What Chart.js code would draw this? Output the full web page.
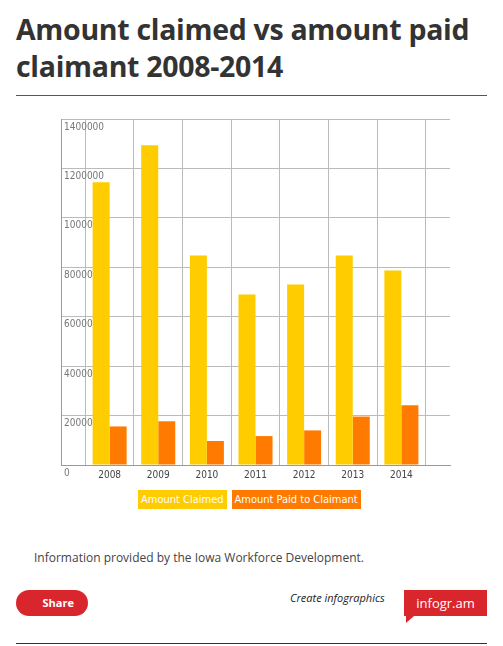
<!DOCTYPE html>
<html>
<head>
<meta charset="utf-8">
<script src="https://cdn.jsdelivr.net/npm/chart.js@4"></script>
<style>
  body { margin: 0; width: 503px; height: 646px; background: #fff; font-family: "Open Sans", sans-serif; position: relative; overflow: hidden; }
  #title { position: absolute; left: 16px; top: 11px; width: 485px; font: bold 28.5px/37px "Open Sans", sans-serif; color: #333; letter-spacing: -0.3px; }
  .rule { position: absolute; left: 16px; width: 471px; height: 1px; background: #555; }
  #wrap { position: absolute; left: 50px; top: 110px; width: 405px; height: 375px; }
  #legend { position: absolute; top: 490px; left: 138px; display: flex; gap: 5px; font: 11px "DejaVu Sans Condensed", sans-serif; color: #fff; }
  #legend span { padding: 3px 3px; }
  #info { position: absolute; left: 34px; top: 549px; font-size: 12px; color: #444; }
  #share { position: absolute; left: 16px; top: 590px; width: 72px; height: 26px; border-radius: 13px; background: #d9262c; color: #fff; font: bold 11px "Open Sans", sans-serif; line-height: 26px; text-align: right; box-sizing: border-box; padding-right: 14px; }
  #create { position: absolute; left: 290px; top: 590px; font: italic 11px "Open Sans", sans-serif; color: #222; }
  #logo { position: absolute; left: 404px; top: 590px; width: 83px; height: 26px; background: #d9262c; color: #fff; font: 13px/26px "Open Sans", sans-serif; text-align: center; }
  #logo:after { content: ""; position: absolute; left: 2px; bottom: -7px; border-left: 8px solid #d9262c; border-bottom: 7px solid transparent; }
</style>
</head>
<body>
<div id="title">Amount claimed vs amount paid claimant 2008-2014</div>
<div class="rule" style="top:95px"></div>
<div id="wrap"><canvas id="chart"></canvas></div>
<div id="legend"><span style="background:#ffcc00">Amount Claimed</span><span style="background:#ff7a00">Amount Paid to Claimant</span></div>
<div id="info">Information provided by the Iowa Workforce Development.</div>
<div id="share">Share</div>
<div id="create">Create infographics</div>
<div id="logo">infogr.am</div>
<div class="rule" style="top:643px;background:#333"></div>
<script>
const years = ['', '2008', '2009', '2010', '2011', '2012', '2013', '2014', ''];
const amountClaimed = [null, 1144000, 1294000, 848000, 690000, 730000, 848000, 787000, null];
const amountPaid = [null, 156000, 177000, 97000, 117000, 140000, 196000, 242000, null];
const yTickLabels = ['0', '20000', '40000', '60000', '80000', '10000', '1200000', '1400000'];

new Chart(document.getElementById('chart'), {
  type: 'bar',
  data: {
    labels: years,
    datasets: [
      { label: 'Amount Claimed', data: amountClaimed, backgroundColor: '#ffcc00' },
      { label: 'Amount Paid to Claimant', data: amountPaid, backgroundColor: '#ff7a00' }
    ]
  },
  options: {
    responsive: true, maintainAspectRatio: false, animation: false,
    layout: { padding: { top: 6, right: 5, left: 5 } },
    plugins: { legend: { display: false }, tooltip: { enabled: false } },
    datasets: { bar: { categoryPercentage: 0.7, barPercentage: 1 } },
    scales: {
      x: {
        offset: false,
        grid: { color: '#bbb', tickLength: 0 },
        border: { color: '#999' },
        ticks: { color: '#444', font: { family: 'DejaVu Sans Condensed', size: 10 }, padding: 4, autoSkip: false, maxRotation: 0 }
      },
      y: {
        min: 0, max: 1400000,
        grid: { color: '#bbb', tickLength: 0 },
        border: { color: '#999' },
        ticks: {
          stepSize: 200000, mirror: true, labelOffset: 8, padding: 3,
          color: '#777', font: { family: 'DejaVu Sans Condensed', size: 10 },
          callback: (v, i) => yTickLabels[i]
        }
      }
    }
  }
});
</script>
</body>
</html>
